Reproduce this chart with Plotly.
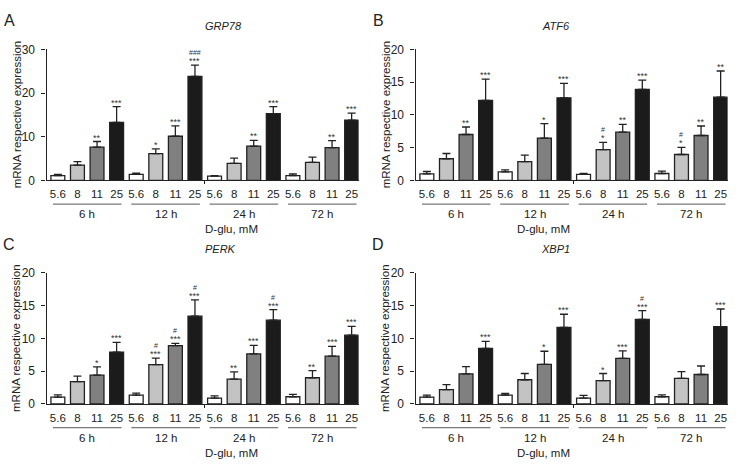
import plotly.graph_objects as go

# ---------------- data ----------------
conc_labels = ["5.6", "8", "11", "25"]
time_labels = ["6 h", "12 h", "24 h", "72 h"]

genes = ["GRP78", "ATF6", "PERK", "XBP1"]
panel_letters = ["A", "B", "C", "D"]
y_max = [30, 20, 20, 20]
y_dtick = [10, 5, 5, 5]

grp78_mean = [1.1, 3.5, 7.6, 13.3, 1.35, 6.1, 10.1, 23.8, 0.95, 3.9, 7.85, 15.3, 1.1, 4.1, 7.5, 13.8]
grp78_err = [0.25, 0.8, 1.3, 3.6, 0.3, 1.1, 2.4, 2.6, 0.1, 1.2, 1.3, 1.6, 0.35, 1.2, 1.6, 1.6]
grp78_star = ["", "", "**", "***", "", "*", "***", "***", "", "", "**", "***", "", "", "**", "***"]
grp78_hash = ["", "", "", "", "", "", "", "###", "", "", "", "", "", "", "", ""]

atf6_mean = [1.0, 3.3, 7.0, 12.2, 1.3, 2.85, 6.45, 12.6, 0.9, 4.7, 7.35, 13.9, 1.05, 3.95, 6.85, 12.7]
atf6_err = [0.35, 0.8, 1.15, 3.25, 0.3, 1.0, 2.2, 2.2, 0.15, 1.1, 1.2, 1.4, 0.35, 1.1, 1.45, 4.0]
atf6_star = ["", "", "**", "***", "", "", "*", "***", "", "*", "**", "***", "", "*", "**", "**"]
atf6_hash = ["", "", "", "", "", "", "", "", "", "#", "", "", "", "#", "", ""]

perk_mean = [1.05, 3.4, 4.4, 7.9, 1.35, 6.0, 8.9, 13.4, 0.9, 3.8, 7.65, 12.8, 1.1, 4.0, 7.3, 10.5]
perk_err = [0.35, 0.85, 1.25, 1.5, 0.3, 1.0, 0.35, 2.5, 0.35, 1.1, 1.3, 1.6, 0.35, 1.1, 1.5, 1.35]
perk_star = ["", "", "*", "***", "", "***", "***", "***", "", "**", "***", "***", "", "**", "***", "***"]
perk_hash = ["", "", "", "", "", "#", "#", "#", "", "", "", "#", "", "", "", ""]

xbp1_mean = [1.05, 2.2, 4.6, 8.5, 1.35, 3.7, 6.05, 11.7, 0.9, 3.55, 6.95, 12.9, 1.1, 3.9, 4.5, 11.8]
xbp1_err = [0.3, 0.75, 1.1, 1.05, 0.25, 0.95, 2.0, 2.0, 0.4, 1.1, 1.15, 1.35, 0.3, 1.05, 1.3, 2.7]
xbp1_star = ["", "", "", "***", "", "", "*", "***", "", "*", "***", "***", "", "", "", "***"]
xbp1_hash = ["", "", "", "", "", "", "", "", "", "", "", "#", "", "", "", ""]

means = [grp78_mean, atf6_mean, perk_mean, xbp1_mean]
errs = [grp78_err, atf6_err, perk_err, xbp1_err]
stars = [grp78_star, atf6_star, perk_star, xbp1_star]
hashes = [grp78_hash, atf6_hash, perk_hash, xbp1_hash]

x_title = "D-glu, mM"
y_title = "mRNA respective expression"

# ---------------- layout geometry ----------------
W, H = 738, 468
FONT = "Liberation Sans, Arial, sans-serif"
INK = "#222222"
bar_colors = ["#ffffff", "#c3c3c3", "#808080", "#1b1b1b"]

x_doms = [(46.5 / W, 358.5 / W), (415.5 / W, 727.5 / W)]
y_doms = [(1 - 178.7 / H, 1 - 43.7 / H), (1 - 409.2 / H, 1 - 274.2 / H)]

n = len(conc_labels) * len(time_labels)
xs = list(range(n))
ticktext = conc_labels * len(time_labels)

fig = go.Figure()
annotations = []
shapes = []

for p in range(4):
    col, row = p % 2, p // 2
    xd, yd = x_doms[col], y_doms[row]
    sfx = "" if p == 0 else str(p + 1)
    xa, ya = "x" + sfx, "y" + sfx
    colors = [bar_colors[i % 4] for i in xs]
    fig.add_trace(go.Bar(
        x=xs, y=means[p], xaxis=xa, yaxis=ya, width=0.71,
        marker=dict(color=colors, line=dict(color=INK, width=1.3)),
        error_y=dict(type="data", array=errs[p], arrayminus=[0] * n, symmetric=False,
                     color=INK, thickness=1.3, width=4),
        showlegend=False, hoverinfo="skip",
    ))
    fig.update_layout(**{
        "xaxis" + sfx: dict(
            domain=list(xd), anchor=ya, range=[-0.58, 15.35],
            showline=True, linecolor=INK, linewidth=1.2, showgrid=False, zeroline=False,
            tickmode="array", tickvals=xs, ticktext=ticktext, ticks="",
            tickfont=dict(family=FONT, size=11.5, color=INK), ticklabelstandoff=3,
            minor=dict(tickmode="array", tickvals=[7.5], ticks="outside", ticklen=3,
                       tickcolor=INK, tickwidth=1, showgrid=False),
        ),
        "yaxis" + sfx: dict(
            domain=list(yd), anchor=xa, range=[0, y_max[p]], dtick=y_dtick[p],
            showline=True, linecolor=INK, linewidth=1.2, showgrid=False, zeroline=False,
            ticks="outside", ticklen=4, tickcolor=INK, tickwidth=1.2,
            tickfont=dict(family=FONT, size=12, color=INK), ticklabelstandoff=4,
        ),
    })

    y0px = H * (1 - yd[0])  # pixel row of the x axis

    def py(off):
        return 1 - (y0px + off) / H

    # group underlines and labels
    for g, tl in enumerate(time_labels):
        shapes.append(dict(type="line", xref=xa, yref="paper",
                           x0=4 * g - 0.25, x1=4 * g + 3.25, y0=py(24.5), y1=py(24.5),
                           line=dict(color="#555555", width=1)))
        annotations.append(dict(x=4 * g + 1.5, y=py(35), xref=xa, yref="paper",
                                text=tl, showarrow=False, yanchor="middle",
                                font=dict(family=FONT, size=11.5, color=INK)))
    # axis title
    annotations.append(dict(x=(xd[0] + xd[1]) / 2, y=py(50.5), xref="paper", yref="paper",
                            text=x_title, showarrow=False, yanchor="middle",
                            font=dict(family=FONT, size=11.5, color=INK)))
    annotations.append(dict(x=(xd[0] * W - 30) / W, y=(yd[0] + yd[1]) / 2, xref="paper", yref="paper",
                            text=y_title, textangle=-90, showarrow=False,
                            xanchor="center", yanchor="middle",
                            font=dict(family=FONT, size=11.5, color=INK)))
    # gene title
    annotations.append(dict(x=(xd[0] + xd[1]) / 2, y=1 - (H * (1 - yd[1]) - 24.5) / H,
                            xref="paper", yref="paper", text="<i>" + genes[p] + "</i>",
                            showarrow=False, yanchor="middle",
                            font=dict(family=FONT, size=11, color=INK)))
    # panel letter
    annotations.append(dict(x=(xd[0] * W - 37.5) / W, y=1 - (H * (1 - yd[1]) - 29.5) / H,
                            xref="paper", yref="paper", text=panel_letters[p],
                            showarrow=False, xanchor="center", yanchor="middle",
                            font=dict(family=FONT, size=16, color=INK)))
    # significance marks
    for i in xs:
        top = means[p][i] + errs[p][i]
        if stars[p][i]:
            annotations.append(dict(x=i, y=top, xref=xa, yref=ya, text=stars[p][i],
                                    showarrow=False, yanchor="bottom", yshift=-3,
                                    font=dict(family=FONT, size=9, color="#333333")))
        if hashes[p][i]:
            annotations.append(dict(x=i, y=top, xref=xa, yref=ya, text=hashes[p][i],
                                    showarrow=False, yanchor="bottom", yshift=7,
                                    font=dict(family=FONT, size=7, color="#333333")))

fig.update_layout(
    width=W, height=H, margin=dict(l=0, r=0, t=0, b=0),
    paper_bgcolor="white", plot_bgcolor="white",
    bargap=0.29, annotations=annotations, shapes=shapes,
    font=dict(family=FONT, color=INK),
)

fig.write_html("out.html", config={"displayModeBar": False},
               post_script="document.body.style.margin='0';document.body.style.overflow='hidden';")
